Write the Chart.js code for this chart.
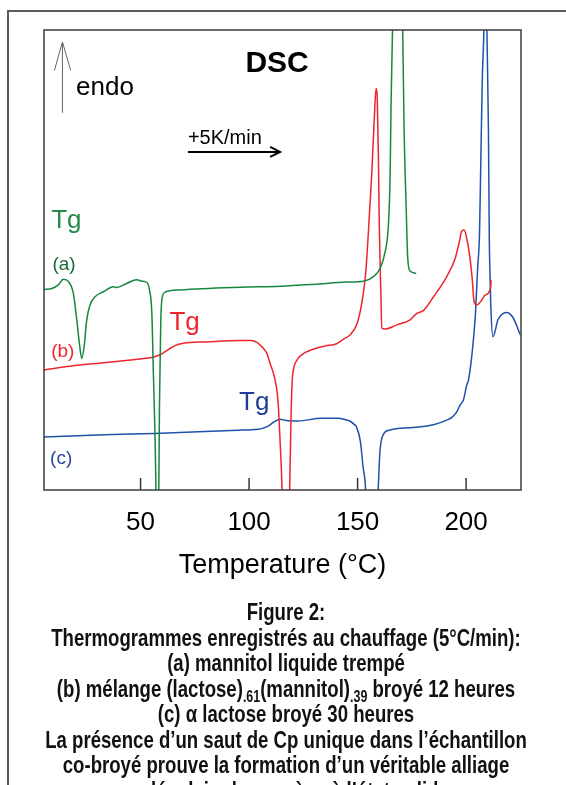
<!DOCTYPE html>
<html>
<head>
<meta charset="utf-8">
<script src="https://cdn.jsdelivr.net/npm/chart.js@4.4.1/dist/chart.umd.min.js"></script>
<style>
  html, body { margin: 0; padding: 0; background: #fff; overflow: hidden; }
  body { width: 566px; height: 785px; position: relative; }
  #frame { position: absolute; left: 7px; top: 10px; width: 620px; height: 800px;
           border-top: 2px solid #5a5a5a; border-left: 2px solid #5a5a5a; }
  #wrap { position: absolute; left: 0; top: 0; width: 566px; height: 600px; }
  #caption { position: absolute; left: -114px; top: 599px; width: 800px; text-align: center;
             font-family: "Liberation Sans", Arial, sans-serif;
             font-weight: bold; font-size: 24px; line-height: 25.5px; color: #111; }
  /* the printed caption uses a condensed face */
  #caption div { white-space: nowrap; transform: scaleX(0.775); transform-origin: 400px 0; }
  #caption sub { font-size: 16px; vertical-align: -5px; line-height: 0; }
</style>
</head>
<body>
<div id="frame"></div>
<div id="wrap"><canvas id="dsc" width="566" height="600"></canvas></div>
<div id="caption">
  <div>Figure 2:</div>
  <div>Thermogrammes enregistrés au chauffage (5°C/min):</div>
  <div>(a) mannitol liquide trempé</div>
  <div>(b) mélange (lactose)<sub>.61</sub>(mannitol)<sub>.39</sub> broyé 12 heures</div>
  <div>(c) α lactose broyé 30 heures</div>
  <div>La présence d’un saut de Cp unique dans l’échantillon</div>
  <div>co-broyé prouve la formation d’un véritable alliage</div>
  <div>moléculaire homogène à l’état solide</div>
</div>
<script>
// temperature ticks on the x axis
const tempTicks = [50, 100, 150, 200];

// (a) mannitol liquide trempé
const tempA = [5.5, 9.1, 12.1, 14.4, 16.8, 19.0, 20.6, 21.8, 22.9, 24.0, 25.2, 26.7, 29.0, 32.9, 37.5, 39.0,
  43.6, 48.2, 50.6, 52.9, 54.1, 55.2, 55.9, 56.7, 57.1, 57.6, 58.1, 58.4, 58.7, 59.3, 59.9, 61.3, 68.2,
  95.9, 114.3, 129.6, 145.0, 152.7, 157.3, 160.4, 162.7, 164.2, 165.0, 165.4, 166.1, 168.6, 170.8, 171.4,
  172.4, 173.1, 174.2, 177.0];
const flowA = [43.6, 43.8, 44.6, 45.8, 45.3, 42.8, 37.0, 31.9, 28.6, 31.2, 37.0, 40.2, 42.0, 43.1, 44.2, 44.0,
  44.9, 45.7, 45.4, 45.1, 43.5, 38.4, 25.4, 10.9, 0, -20, -20, 0, 18.1, 36.3, 41.7, 43.0, 43.5,
  44.1, 44.3, 44.7, 45.2, 45.4, 46.4, 48.2, 51.8, 57.6, 68.5, 83, 100, 160, 100, 79.3,
  61.2, 50.4, 47.6, 47.1];

// (b) mélange lactose/mannitol broyé 12 h
const tempB = [5.5, 19.0, 34.4, 49.8, 55.2, 59.0, 62.8, 65.9, 69.7, 80.5, 95.9, 101.0, 103.6, 105.1, 106.6,
  108.2, 109.7, 111.2, 112.0, 113.0, 113.5, 114.3, 115.2, 116.0, 117.8, 118.7, 119.3, 119.8, 120.6, 122.0,
  124.5, 129.6, 135.0, 140.4, 143.5, 146.5, 149.6, 151.5, 153.0, 153.8, 155.0, 156.5, 157.7, 158.5, 159.1,
  159.6, 160.0, 160.7, 161.2, 162.7, 168.1, 174.2, 177.3, 180.3, 185.0, 191.1, 195.0, 196.9, 198.0, 199.1,
  200.3, 201.8, 202.8, 203.7, 204.9, 207.2, 208.8, 211.4, 211.5];
const flowB = [26.1, 27.0, 27.7, 28.5, 28.8, 29.4, 30.5, 31.4, 31.9, 32.2, 32.5, 32.5, 32.1, 31.5, 30.8,
  29.7, 27.5, 25.4, 23.9, 21.0, 18.1, 10.5, 0, -20, -20, 0, 15, 23, 26.5, 28.2,
  29.5, 30.6, 31.3, 31.8, 32.8, 33.7, 36.0, 39.5, 44.0, 47.5, 56.2, 68.5, 80.8, 87.3, 84.4,
  72.1, 57.6, 43.1, 35.2, 35.0, 35.9, 37.0, 38.4, 39.0, 42.0, 46.4, 50.4, 54.0, 56.3, 56.5,
  54.7, 50.4, 46.0, 40.9, 40.2, 41.3, 42.4, 44.2, 45.7];

// (c) alpha lactose broyé 30 h
const tempC = [5.5, 33.5, 56.5, 79.6, 94.9, 104.1, 108.8, 111.8, 114.1, 117.2, 122.6, 133.3, 141.0, 145.0,
  146.4, 148.8, 149.4, 151.3, 152.5, 153.7, 155.0, 158.0, 159.5, 160.3, 161.8, 164.5, 175.7, 185.0, 191.1,
  193.5, 195.7, 197.3, 198.8, 200.3, 201.1, 202.7, 204.2, 205.3, 206.2, 206.8, 207.5, 208.2, 209.0, 209.6,
  210.3, 210.7, 211.0, 211.4, 212.4, 214.7, 218.6, 221.6, 225.0];
const flowC = [11.5, 12.0, 12.3, 12.7, 13.0, 13.2, 13.9, 14.9, 15.4, 15.1, 15.0, 15.6, 15.6, 15.2,
  15.0, 14.1, 13.8, 10.5, 5.1, 0, -20, -20, 0, 8.3, 12.0, 13.0, 13.6, 14.2, 15.2,
  15.8, 17.0, 18.5, 19.6, 22.8, 23.9, 29.5, 37.5, 48.0, 56.0, 72.0, 90.0, 100, 125, 100,
  78.0, 54.3, 47.0, 39.8, 33.3, 37.0, 38.6, 37.5, 33.7];

const toPoints = (xs, ys) => xs.map((x, i) => ({ x: x, y: ys[i] }));

const FONT = "'Liberation Sans', Arial, sans-serif";
const GREEN = 'rgb(24,135,62)';
const RED = 'rgb(236,38,44)';
const BLUE = 'rgb(30,82,170)';

// text drawn on the plot, anchored in data units (temperature, signal)
const notes = [
  { text: 'DSC', x: 112.9, y: 92.6, size: 30, bold: true, color: '#000', align: 'center', base: 'middle' },
  { text: 'endo', x: 20.3, y: 85.9, size: 26, color: '#000' },
  { text: '+5K/min', x: 71.8, y: 75.2, size: 20, color: '#000' },
  { text: 'Tg', x: 8.8, y: 57.0, size: 26, color: 'rgb(35,140,72)' },
  { text: '(a)', x: 9.4, y: 47.8, size: 19, color: 'rgb(25,105,55)' },
  { text: 'Tg', x: 63.3, y: 34.8, size: 26, color: RED },
  { text: '(b)', x: 8.8, y: 28.9, size: 19, color: RED },
  { text: 'Tg', x: 95.4, y: 17.4, size: 26, color: 'rgb(28,62,150)' },
  { text: '(c)', x: 8.3, y: 5.7, size: 19, color: 'rgb(40,72,160)' }
];

const decor = {
  id: 'decor',
  afterDatasetsDraw(chart) {
    const { ctx, chartArea: a, scales: { x, y } } = chart;
    ctx.save();
    // inward ticks
    ctx.strokeStyle = '#333';
    ctx.lineWidth = 1.5;
    x.ticks.forEach(t => {
      const px = x.getPixelForValue(t.value);
      ctx.beginPath();
      ctx.moveTo(px, a.bottom);
      ctx.lineTo(px, a.bottom - 12);
      ctx.stroke();
    });
    // plot box
    ctx.strokeStyle = '#3c3c3c';
    ctx.strokeRect(a.left, a.top, a.right - a.left, a.bottom - a.top);

    // endo arrow
    ctx.strokeStyle = '#666';
    ctx.lineWidth = 1;
    const ax = x.getPixelForValue(14.0);
    ctx.beginPath();
    ctx.moveTo(ax, y.getPixelForValue(82.0));
    ctx.lineTo(ax, y.getPixelForValue(97.4));
    ctx.moveTo(x.getPixelForValue(10.3), y.getPixelForValue(91.2));
    ctx.lineTo(ax, y.getPixelForValue(97.4));
    ctx.lineTo(x.getPixelForValue(17.8), y.getPixelForValue(91.2));
    ctx.stroke();

    // heating rate arrow
    ctx.strokeStyle = '#000';
    ctx.lineWidth = 2;
    const hy = y.getPixelForValue(73.5);
    const hx = x.getPixelForValue(114.3);
    ctx.beginPath();
    ctx.moveTo(x.getPixelForValue(71.8), hy);
    ctx.lineTo(hx, hy);
    ctx.moveTo(x.getPixelForValue(109.7), hy - 5);
    ctx.lineTo(hx, hy);
    ctx.lineTo(x.getPixelForValue(109.7), hy + 5);
    ctx.stroke();

    notes.forEach(n => {
      ctx.font = (n.bold ? 'bold ' : '') + n.size + 'px ' + FONT;
      ctx.fillStyle = n.color;
      ctx.textAlign = n.align || 'left';
      ctx.textBaseline = n.base || 'alphabetic';
      ctx.fillText(n.text, x.getPixelForValue(n.x), y.getPixelForValue(n.y));
    });
    ctx.restore();
  }
};

const line = (data, color) => ({
  data: data,
  borderColor: color,
  borderWidth: 1.5,
  pointRadius: 0,
  fill: false,
  cubicInterpolationMode: 'monotone'
});

new Chart(document.getElementById('dsc').getContext('2d'), {
  type: 'line',
  data: {
    datasets: [
      line(toPoints(tempA, flowA), GREEN),
      line(toPoints(tempB, flowB), RED),
      line(toPoints(tempC, flowC), BLUE)
    ]
  },
  options: {
    responsive: false,
    animation: false,
    layout: { padding: { left: 44, right: 45, top: 30, bottom: 0 } },
    plugins: { legend: { display: false }, tooltip: { enabled: false } },
    scales: {
      x: {
        type: 'linear',
        min: 5.5,
        max: 225.3,
        afterBuildTicks: s => { s.ticks = tempTicks.map(v => ({ value: v })); },
        afterFit: s => { s.height = 110; },
        grid: { display: false, drawTicks: false },
        border: { display: false },
        ticks: { color: '#000', padding: 17, font: { family: FONT, size: 26 } },
        title: {
          display: true,
          text: 'Temperature (°C)',
          color: '#000',
          font: { family: FONT, size: 27 },
          padding: { top: 0, bottom: 18 }
        }
      },
      y: { display: false, min: 0, max: 100 }
    }
  },
  plugins: [decor]
});
</script>
</body>
</html>
